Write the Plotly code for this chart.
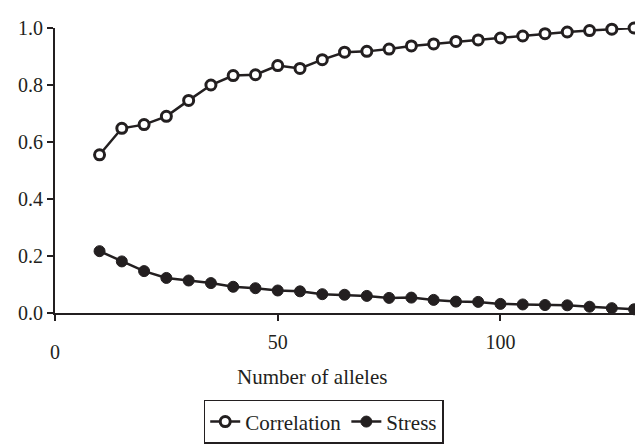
import plotly.graph_objects as go

alleles = [10, 15, 20, 25, 30, 35, 40, 45, 50, 55, 60, 65, 70, 75, 80, 85, 90, 95, 100, 105, 110, 115, 120, 125, 130]
correlation = [0.555, 0.648, 0.661, 0.69, 0.746, 0.80, 0.833, 0.836, 0.868, 0.858, 0.889, 0.915, 0.918,
               0.926, 0.937, 0.944, 0.953, 0.958, 0.965, 0.972, 0.980, 0.986, 0.991, 0.996, 1.0]
stress = [0.217, 0.181, 0.147, 0.123, 0.114, 0.105, 0.092, 0.087, 0.079, 0.076, 0.066, 0.064, 0.060,
          0.053, 0.054, 0.046, 0.040, 0.039, 0.032, 0.030, 0.028, 0.027, 0.022, 0.017, 0.013]
x_ticks = [0, 50, 100]
x_tick_text = ["", "50", "100"]
y_ticks = [0.0, 0.2, 0.4, 0.6, 0.8, 1.0]
y_tick_text = ["0.0", "0.2", "0.4", "0.6", "0.8", "1.0"]
x_title = "Number of alleles"

FONT = "Times New Roman"
C = "#231f20"

fig = go.Figure()
fig.add_trace(go.Scatter(
    x=alleles, y=correlation, name="Correlation", mode="lines+markers",
    line=dict(color=C, width=2.5),
    marker=dict(symbol="circle", size=10, color="white", line=dict(color=C, width=3)),
    cliponaxis=False,
))
fig.add_trace(go.Scatter(
    x=alleles, y=stress, name="Stress", mode="lines+markers",
    line=dict(color=C, width=2.5),
    marker=dict(symbol="circle", size=11, color=C, line=dict(color=C, width=1)),
    cliponaxis=False,
))

fig.update_layout(
    width=643, height=444,
    margin=dict(l=47, r=8, t=20, b=123),
    paper_bgcolor="white", plot_bgcolor="white",
    font=dict(family=FONT, size=20, color=C),
    showlegend=True,
    legend=dict(
        orientation="h", x=0.457, xanchor="center", y=-0.305, yanchor="top",
        bordercolor=C, borderwidth=1.5, font=dict(family=FONT, size=21, color=C),
        itemwidth=30, tracegroupgap=0,
    ),
    xaxis=dict(
        range=[0, 132], tickmode="array", tickvals=x_ticks, ticktext=x_tick_text,
        showline=True, linecolor=C, linewidth=2, showgrid=False, zeroline=False,
        ticks="outside", ticklen=6, tickwidth=2, tickcolor=C,
        ticklabelstandoff=4,
        tickfont=dict(family=FONT, size=20, color=C),
    ),
    yaxis=dict(
        range=[0, 1], tickmode="array", tickvals=y_ticks, ticktext=y_tick_text,
        showline=True, linecolor=C, linewidth=2, showgrid=False, zeroline=False,
        ticks="outside", ticklen=6, tickwidth=2, tickcolor=C,
        tickfont=dict(family=FONT, size=20, color=C),
    ),
    annotations=[
        dict(
            x=0, y=0, xref="x", yref="paper", text="0", showarrow=False,
            xanchor="center", yanchor="top", yshift=-26,
            font=dict(family=FONT, size=20, color=C),
        ),
        dict(
            x=0.437, y=0, xref="paper", yref="paper", text=x_title, showarrow=False,
            xanchor="center", yanchor="middle", yshift=-64,
            font=dict(family=FONT, size=21, color=C),
        ),
    ],
)

fig.write_html("out.html")
